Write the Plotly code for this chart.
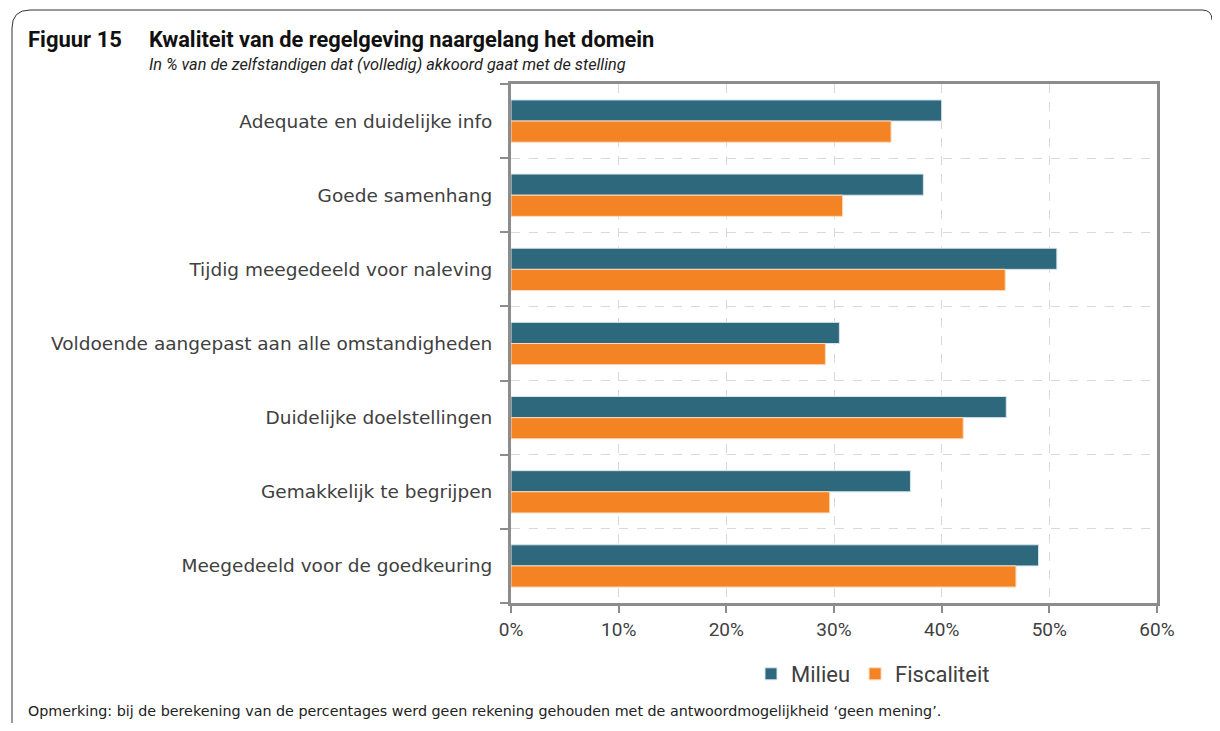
import plotly.graph_objects as go

categories = [
    "Adequate en duidelijke info",
    "Goede samenhang",
    "Tijdig meegedeeld voor naleving",
    "Voldoende aangepast aan alle omstandigheden",
    "Duidelijke doelstellingen",
    "Gemakkelijk te begrijpen",
    "Meegedeeld voor de goedkeuring",
]
milieu = [40.0, 38.3, 50.7, 30.5, 46.0, 37.1, 49.0]
fiscaliteit = [35.3, 30.8, 45.9, 29.2, 42.0, 29.6, 46.9]
series_names = ["Milieu", "Fiscaliteit"]
x_ticks = [0, 10, 20, 30, 40, 50, 60]
x_ticklabels = ["0%", "10%", "20%", "30%", "40%", "50%", "60%"]

# page body has an 8px margin: work in screen pixels and shift
OFF = 8
W, H = 1220 - 2 * OFF, 731 - 2 * OFF
PL, PR, PT, PB = 511, 1157, 84, 603  # plot area in screen pixels
L, T = PL - OFF, PT - OFF
R, B = W - (PR - OFF), H - (PB - OFF)
pw, ph = PR - PL, PB - PT

def px(x):
    return (x - PL) / pw

def py(y):
    return (PB - y) / ph

pos = list(range(len(categories)))

fig = go.Figure()
fig.add_trace(go.Bar(
    y=pos, x=milieu, orientation="h", name=series_names[0],
    marker=dict(color="#2E687C", line=dict(color="#d8e4ea", width=1)),
))
fig.add_trace(go.Bar(
    y=pos, x=fiscaliteit, orientation="h", name=series_names[1],
    marker=dict(color="#F48423", line=dict(color="#fbd9bb", width=1)),
))

fig.update_layout(
    width=W, height=H,
    margin=dict(l=L, r=R, t=T, b=B, autoexpand=False),
    paper_bgcolor="white", plot_bgcolor="white",
    barmode="group", bargap=0.43, bargroupgap=0.0,
    font=dict(family="DejaVu Sans", color="#404040"),
    showlegend=True,
    legend=dict(
        orientation="h", x=px(873), xanchor="center", y=py(674), yanchor="middle",
        font=dict(family="Roboto", size=22, color="#404040"),
        itemwidth=30, tracegroupgap=0,
    ),
    xaxis=dict(
        range=[0, 60], tickvals=x_ticks, ticktext=x_ticklabels,
        showgrid=True, gridcolor="#d9d9d9", griddash="dash", gridwidth=1,
        showline=True, linecolor="#8c8c8c", linewidth=3, mirror=True,
        ticks="outside", ticklen=7, tickwidth=2, tickcolor="#8c8c8c",
        tickfont=dict(family="Roboto", size=19, color="#404040"),
        zeroline=False, fixedrange=True,
    ),
    yaxis=dict(
        range=[len(categories) - 0.5, -0.5],
        tickvals=pos, ticktext=categories,
        showgrid=False, ticks="", ticklen=0,
        showline=True, linecolor="#8c8c8c", linewidth=3, mirror=True,
        tickfont=dict(family="DejaVu Sans", size=18.5, color="#404040"),
        ticklabelstandoff=12,
        minor=dict(
            tickvals=[p + 0.5 for p in pos[:-1]] + [-0.5, len(categories) - 0.5],
            showgrid=True, gridcolor="#d9d9d9", griddash="dash", gridwidth=1,
            ticks="outside", ticklen=8, tickwidth=2, tickcolor="#8c8c8c",
        ),
        zeroline=False,
    ),
)

# Outer frame with rounded top corners
path = (
    f"M {px(12)},{py(740)} L {px(12)},{py(28)} "
    f"Q {px(12)},{py(10)} {px(30)},{py(10)} "
    f"L {px(1202)},{py(10)} Q {px(1212)},{py(10)} {px(1212)},{py(20)}"
)
fig.add_shape(type="path", path=path, xref="paper", yref="paper",
              line=dict(color="#333333", width=1), layer="above")

fig.add_annotation(text="<b>Figuur 15</b>", xref="paper", yref="paper",
                   x=px(26), y=py(39), xanchor="left", yanchor="middle", showarrow=False,
                   font=dict(family="Roboto", size=22, color="#111111"))
fig.add_annotation(text="<b>Kwaliteit van de regelgeving naargelang het domein</b>", xref="paper", yref="paper",
                   x=px(147), y=py(39), xanchor="left", yanchor="middle", showarrow=False,
                   font=dict(family="Roboto", size=21.8, color="#111111"))
fig.add_annotation(text="<i>In % van de zelfstandigen dat (volledig) akkoord gaat met de stelling</i>",
                   xref="paper", yref="paper",
                   x=px(147), y=py(64.5), xanchor="left", yanchor="middle", showarrow=False,
                   font=dict(family="Roboto", size=16.3, color="#222222"))
fig.add_annotation(text="Opmerking: bij de berekening van de percentages werd geen rekening gehouden met de antwoordmogelijkheid \u2018geen mening\u2019.",
                   xref="paper", yref="paper",
                   x=px(26), y=py(711), xanchor="left", yanchor="middle", showarrow=False,
                   font=dict(family="DejaVu Sans", size=14.3, color="#222222"))

fig.write_html("out.html")
